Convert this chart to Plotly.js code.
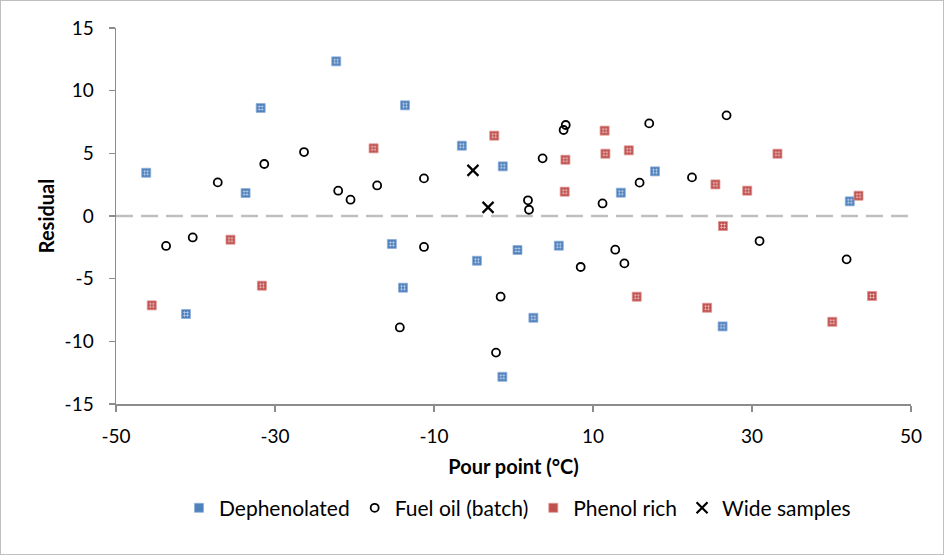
<!DOCTYPE html>
<html>
<head>
<meta charset="utf-8">
<script src="https://cdn.plot.ly/plotly-3.0.1.min.js"></script>
<style>
  html, body { margin: 0; padding: 0; background: #fff; }
  #frame { position: absolute; left: 0; top: 0; width: 944px; height: 555px;
           box-sizing: border-box; border: 1px solid #BFBFBF; }
  #chart { width: 942px; height: 553px; }
</style>
</head>
<body>
<div id="frame"><div id="chart"></div></div>
<script>
// Residuals against pour point, by sample group
const dephenolatedX = [-46.2, -41.2, -33.7, -31.8, -22.3, -15.3, -13.9, -13.65, -6.5, -4.6, -1.4, -1.35, 0.5, 2.5, 5.7, 13.5, 17.8, 26.3, 42.3];
const dephenolatedY = [3.45, -7.82, 1.83, 8.62, 12.34, -2.23, -5.72, 8.83, 5.61, -3.57, -12.83, 3.96, -2.71, -8.12, -2.37, 1.86, 3.56, -8.81, 1.17];

const fuelOilX = [-43.7, -40.35, -37.2, -31.35, -26.35, -22.05, -20.5, -17.15, -14.3, -11.26, -11.26, -2.2, -1.62, 1.82, 1.95, 3.66, 6.3, 6.57, 8.45, 11.2, 12.8, 13.95, 15.86, 17.07, 22.45, 26.8, 30.95, 41.9];
const fuelOilY = [-2.39, -1.71, 2.68, 4.15, 5.1, 2.02, 1.3, 2.44, -8.89, 3.0, -2.47, -10.9, -6.44, 1.25, 0.5, 4.6, 6.86, 7.26, -4.07, 1.0, -2.69, -3.78, 2.66, 7.39, 3.08, 8.03, -2.0, -3.46];

const phenolRichX = [-45.5, -35.6, -31.65, -17.6, -2.42, 6.44, 6.53, 11.46, 11.56, 14.5, 15.5, 24.35, 25.4, 26.35, 29.4, 33.2, 40.1, 43.4, 45.1];
const phenolRichY = [-7.13, -1.89, -5.56, 5.4, 6.41, 1.94, 4.49, 6.81, 4.97, 5.24, -6.44, -7.32, 2.52, -0.8, 2.02, 4.97, -8.44, 1.62, -6.38];

const wideX = [-5.1, -3.2];
const wideY = [3.64, 0.69];

const xTicks = [-50, -30, -10, 10, 30, 50];
const yTicks = [-15, -10, -5, 0, 5, 10, 15];

const FONT = 'Lato, "Open Sans", sans-serif';
const AXIS_GREY = '#8C8C8C';
const BLUE = '#4F81BD';
const RED = '#C0504D';

// light grid texture laid over the filled squares
function texture(x, y) {
  const c = 'rgba(255,255,255,0.4)';
  return {
    x: x, y: y, type: 'scatter', mode: 'markers', showlegend: false, hoverinfo: 'skip',
    marker: { symbol: 'hash-open', size: 6, color: c, line: { color: c, width: 1 } }
  };
}

const traces = [
  {
    name: 'Dephenolated', x: dephenolatedX, y: dephenolatedY, type: 'scatter', mode: 'markers',
    marker: { symbol: 'square', size: 9, color: BLUE, line: { color: '#8FB0DA', width: 0.8 } }
  },
  texture(dephenolatedX, dephenolatedY),
  {
    name: 'Fuel oil (batch)', x: fuelOilX, y: fuelOilY, type: 'scatter', mode: 'markers',
    marker: { symbol: 'circle-open', size: 8, color: '#000', line: { color: '#000', width: 1.8 } }
  },
  {
    name: 'Phenol rich', x: phenolRichX, y: phenolRichY, type: 'scatter', mode: 'markers',
    marker: { symbol: 'square', size: 9, color: RED, line: { color: '#DE9492', width: 0.8 } }
  },
  texture(phenolRichX, phenolRichY),
  {
    name: 'Wide samples', x: wideX, y: wideY, type: 'scatter', mode: 'markers',
    marker: { symbol: 'x-thin-open', size: 11, color: '#000', line: { color: '#000', width: 2.2 } }
  }
];

const layout = {
  width: 942, height: 553,
  margin: { l: 115, r: 32, t: 27, b: 150 },
  paper_bgcolor: '#fff', plot_bgcolor: '#fff',
  font: { family: FONT, size: 19, color: '#000' },
  showlegend: true,
  legend: {
    orientation: 'h', x: 0.505, xanchor: 'center', y: -0.277, yanchor: 'middle',
    font: { family: FONT, size: 21, color: '#000' }
  },
  xaxis: {
    range: [-50, 50], tickvals: xTicks, ticktext: xTicks.map(String),
    showgrid: false, zeroline: false, showline: true, linecolor: AXIS_GREY, linewidth: 1.5,
    ticks: 'outside', ticklen: 6, tickcolor: AXIS_GREY, tickwidth: 1.5,
    ticklabelstandoff: 9,
    tickfont: { family: FONT, size: 19, color: '#000' },
    title: { text: 'Pour point (°C)', font: { family: FONT, size: 20, color: '#000', weight: 'bold' }, standoff: 13 }
  },
  yaxis: {
    range: [-15, 15], tickvals: yTicks, ticktext: yTicks.map(String),
    showgrid: false, zeroline: false, showline: true, linecolor: AXIS_GREY, linewidth: 1.5,
    ticks: 'outside', ticklen: 6, tickcolor: AXIS_GREY, tickwidth: 1.5,
    ticklabelstandoff: 11,
    tickfont: { family: FONT, size: 19, color: '#000' },
    title: { text: 'Residual', font: { family: FONT, size: 20, color: '#000', weight: 'bold' }, standoff: 4 }
  },
  shapes: [{
    type: 'line', xref: 'x', yref: 'y', x0: -50, x1: 50, y0: 0, y1: 0,
    line: { color: '#BFBFBF', width: 2.5, dash: '17px,8px' }, layer: 'below'
  }]
};

Plotly.newPlot('chart', traces, layout, { displayModeBar: false, staticPlot: true });
</script>
</body>
</html>
